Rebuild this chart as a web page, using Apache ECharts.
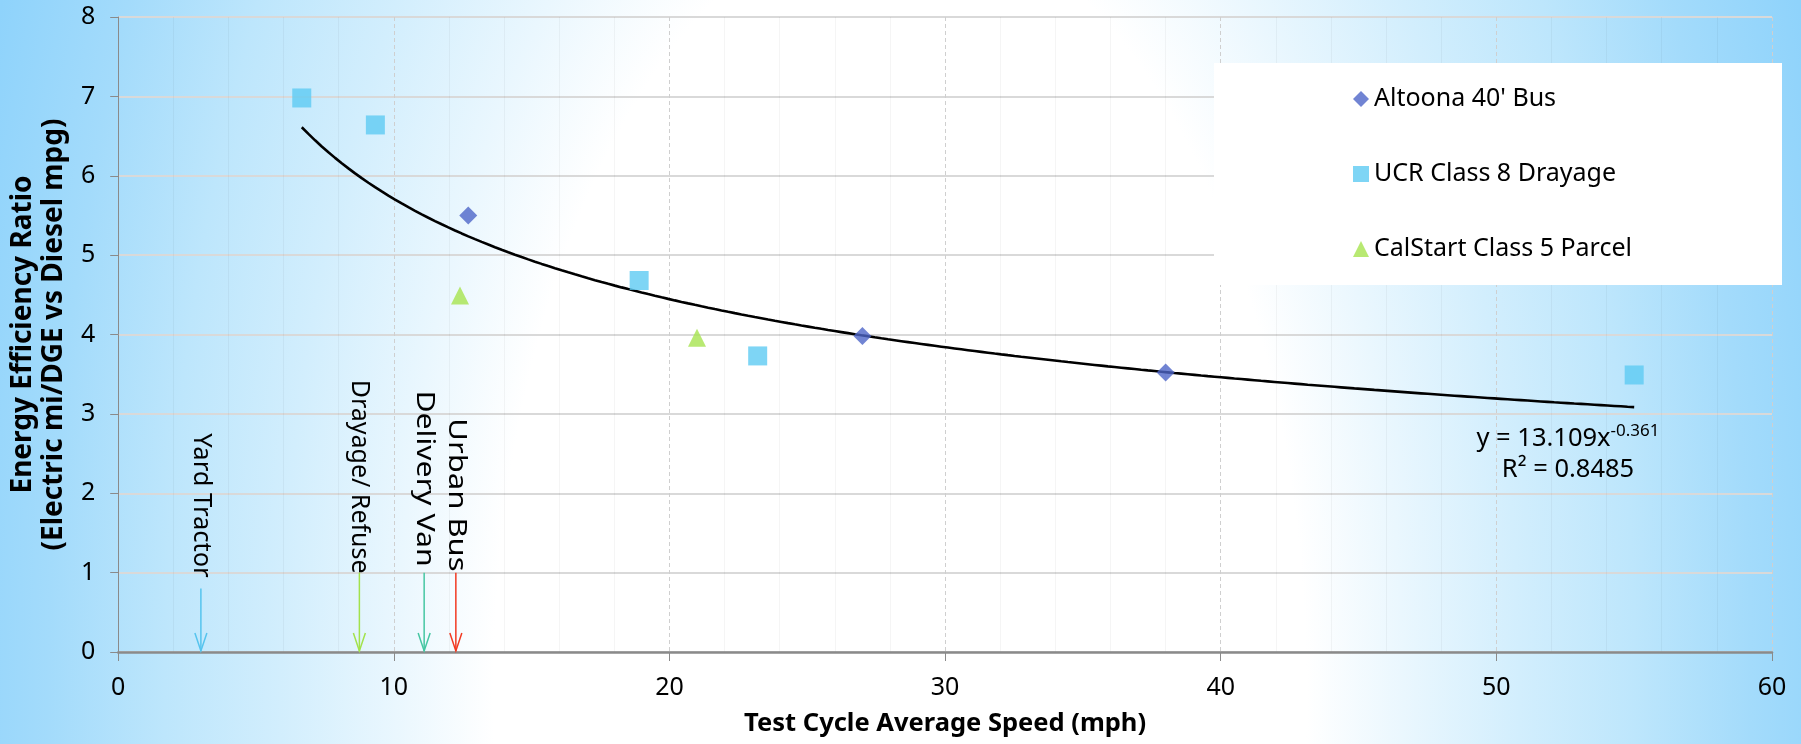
<!DOCTYPE html>
<html><head><meta charset="utf-8">
<script src="https://cdn.jsdelivr.net/npm/echarts@6/dist/echarts.min.js"></script>
<style>
html,body{margin:0;padding:0;background:#fff;}
#chart{width:1801px;height:744px;
background: radial-gradient(ellipse 968px 1870px at 900px 700px, #ffffff 0%, #ffffff 42%, #eaf7fe 52%, #d2eefd 64%, #bde6fc 76%, #a3dbfb 88%, #8fd3fb 100%);}
</style></head>
<body><div id="chart"></div>
<script>
// ---- data ----
const altoonaName = "Altoona 40' Bus";
const altoonaX = [12.7, 27.0, 38.0];
const altoonaY = [5.50, 3.98, 3.52];
const ucrName = 'UCR Class 8 Drayage';
const ucrX = [6.66, 9.33, 18.9, 23.2, 55.0];
const ucrY = [6.98, 6.64, 4.68, 3.73, 3.49];
const calName = 'CalStart Class 5 Parcel';
const calX = [12.4, 21.0];
const calY = [4.49, 3.96];
const arrowLabels = ['Yard Tractor', 'Drayage/ Refuse', 'Delivery Van', 'Urban Bus'];
const arrowX = [3.0, 8.75, 11.1, 12.25];
const arrowTop = [0.8, 1.0, 1.0, 1.0];
// power trendline printed on the chart: y = 13.109 x^-0.361, R² = 0.8485
const trendCoef = 13.109;
const trendExp = -0.361;
const trendR2 = 0.8485;
const xTickMin = 0, xTickMax = 60, xTickStep = 10;
const yTickMin = 0, yTickMax = 8, yTickStep = 1;

// ---- styling ----
const FONT = '"Noto Sans", sans-serif';
const arrowColors = ['#55c4ee', '#a2e24c', '#45c6a2', '#f23a22'];
const arrowFontSize = [25.5, 25, 25, 25];
const arrowStretch = [1.0, 1.0, 1.21, 1.24];
const labelEndShift = [5, 1, -6, -1];   // px, relative to the y=1 gridline

const allX = altoonaX.concat(ucrX, calX);
const tMin = Math.min.apply(null, allX), tMax = Math.max.apply(null, allX);
const trend = [];
const N = 200;
for (let i = 0; i <= N; i++) {
  const x = tMin + (tMax - tMin) * i / N;
  trend.push([x, trendCoef * Math.pow(x, trendExp)]);
}
const zip = (xs, ys) => xs.map((x, i) => [x, ys[i]]);

const chart = echarts.init(document.getElementById('chart'), null, {renderer: 'canvas'});
chart.setOption({
  animation: false,
  backgroundColor: 'transparent',
  textStyle: {fontFamily: FONT},
  grid: {left: 118, right: 29, top: 17, bottom: 82, containLabel: false},
  xAxis: {
    type: 'value', min: xTickMin, max: xTickMax, interval: xTickStep,
    name: 'Test Cycle Average Speed (mph)', nameLocation: 'middle', nameGap: 57,
    nameTextStyle: {fontFamily: FONT, fontWeight: 'bold', fontSize: 25.5, lineHeight: 30, color: '#000'},
    axisLine: {show: true, lineStyle: {color: '#8a8a8a', width: 2.5}},
    axisTick: {show: true, length: 9, lineStyle: {color: '#8a8a8a', width: 1}},
    axisLabel: {margin: 23.5, fontFamily: FONT, fontSize: 25, lineHeight: 25, color: '#000'},
    splitLine: {show: true, lineStyle: {color: '#cfcfcf', width: 1, type: [4, 3]}},
    minorTick: {show: false, splitNumber: 5},
    minorSplitLine: {show: true, lineStyle: {color: 'rgba(0,0,0,0.04)', width: 1}}
  },
  yAxis: {
    type: 'value', min: yTickMin, max: yTickMax, interval: yTickStep,
    name: 'Energy Efficiency Ratio\n(Electric mi/DGE vs Diesel mpg)', nameLocation: 'middle', nameGap: 40, nameRotate: 90,
    nameTextStyle: {fontFamily: FONT, fontWeight: 'bold', fontSize: 28, lineHeight: 31, color: '#000', align: 'center'},
    axisLine: {show: true, lineStyle: {color: '#8a8a8a', width: 1}},
    axisTick: {show: true, length: 8, lineStyle: {color: '#8a8a8a', width: 1}},
    axisLabel: {margin: 23, fontFamily: FONT, fontSize: 25, color: '#000'},
    splitLine: {show: true, lineStyle: {color: '#d9d9d9', width: 2}}
  },
  legend: {
    data: [altoonaName, ucrName, calName],
    orient: 'vertical', left: 1353, top: 86, itemGap: 49, itemWidth: 16, itemHeight: 16, padding: 0,
    textStyle: {fontFamily: FONT, fontSize: 25, lineHeight: 26, color: '#000'},
    z: 6
  },
  graphic: {elements: [
    {type: 'rect', z: 1, shape: {x: 1214, y: 63, width: 568, height: 222}, style: {fill: '#ffffff'}},
    {type: 'text', z: 6, x: 1568, y: 423, style: {
      text: '{a|y = ' + trendCoef + 'x}{s|' + trendExp + '}\n{b|R² = ' + trendR2 + '}',
      align: 'center', verticalAlign: 'top', fill: '#000',
      rich: {
        a: {fontFamily: FONT, fontSize: 25.5, lineHeight: 31, fill: '#000'},
        s: {fontFamily: FONT, fontSize: 17, lineHeight: 20, verticalAlign: 'top', fill: '#000'},
        b: {fontFamily: FONT, fontSize: 25.5, lineHeight: 31, fill: '#000'}
      }
    }}
  ]},
  series: [
    {name: 'Trend', type: 'line', data: trend, showSymbol: false, symbol: 'none', z: 2,
     lineStyle: {color: '#000', width: 2.6}, silent: true},
    {name: altoonaName, type: 'scatter', data: zip(altoonaX, altoonaY), symbol: 'diamond', symbolSize: 18, z: 3,
     itemStyle: {color: '#4e65c8'}},
    {name: ucrName, type: 'scatter', data: zip(ucrX, ucrY), symbol: 'rect', symbolSize: 19, z: 3,
     itemStyle: {color: '#5ecbf3'}},
    {name: calName, type: 'scatter', data: zip(calX, calY), symbol: 'triangle', symbolSize: 18, z: 3,
     itemStyle: {color: '#a6e34f'}},
    {name: 'Arrows', type: 'custom', z: 3, clip: false,
     data: arrowX.map((x, i) => [x, arrowTop[i]]),
     encode: {x: 0, y: 1},
     renderItem: function (params, api) {
       const i = params.dataIndex;
       const c = arrowColors[i];
       const p0 = api.coord([api.value(0), api.value(1)]);
       const p1 = api.coord([api.value(0), 0]);
       const pe = api.coord([api.value(0), 1]);
       return {type: 'group', children: [
         {type: 'line', shape: {x1: p0[0], y1: p0[1], x2: p1[0], y2: p1[1] - 1}, style: {stroke: c, lineWidth: 1.5}},
         {type: 'polyline', shape: {points: [[p1[0] - 6, p1[1] - 19], [p1[0], p1[1] - 1], [p1[0] + 6, p1[1] - 19]]},
          style: {stroke: c, fill: null, lineWidth: 1.5}},
         {type: 'text', x: p1[0], y: pe[1] + labelEndShift[i], rotation: -Math.PI / 2, scaleX: arrowStretch[i],
          style: {text: arrowLabels[i], fill: '#000', fontFamily: FONT, fontSize: arrowFontSize[i], align: 'right', verticalAlign: 'middle'}}
       ]};
     }}
  ]
});
</script></body></html>
